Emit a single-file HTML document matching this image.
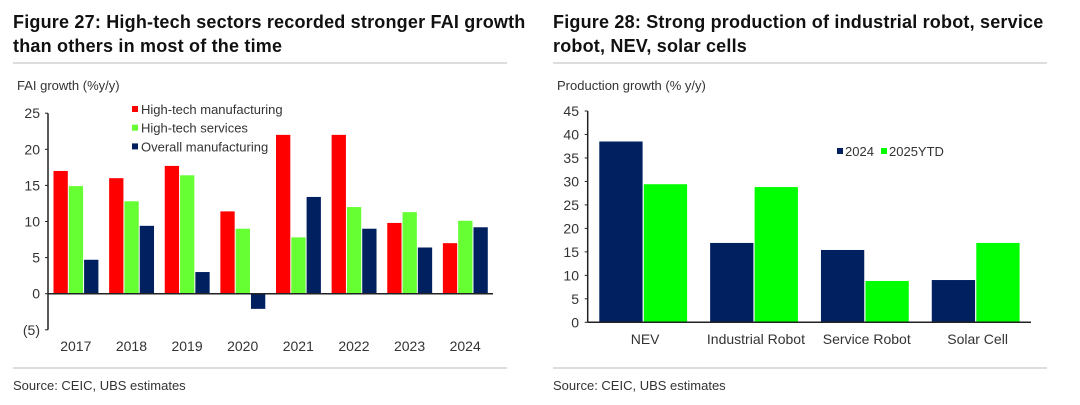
<!DOCTYPE html>
<html><head><meta charset="utf-8"><style>
body{margin:0;background:#fff;width:1080px;height:400px;overflow:hidden;font-family:"Liberation Sans",sans-serif}
svg text{font-family:"Liberation Sans",sans-serif}
</style></head><body>
<svg id="s" width="1080" height="400">
<text x="13" y="28" font-size="18" font-weight="bold" letter-spacing="0.2" fill="#111">Figure 27: High-tech sectors recorded stronger FAI growth</text>
<text x="13" y="52" font-size="18" font-weight="bold" letter-spacing="0.2" fill="#111">than others in most of the time</text>
<text x="553" y="28" font-size="18" font-weight="bold" letter-spacing="0.2" fill="#111">Figure 28: Strong production of industrial robot, service</text>
<text x="553" y="52" font-size="18" font-weight="bold" letter-spacing="0.2" fill="#111">robot, NEV, solar cells</text>
<rect x="13" y="62" width="494" height="2" fill="#ddd"/>
<rect x="553" y="62" width="494" height="2" fill="#ddd"/>
<rect x="13" y="367" width="494" height="2" fill="#ddd"/>
<rect x="553" y="367" width="494" height="2" fill="#ddd"/>
<text x="13" y="390" font-size="13" fill="#333">Source: CEIC, UBS estimates</text>
<text x="553" y="390" font-size="13" fill="#333">Source: CEIC, UBS estimates</text>
<text x="17" y="90" font-size="13" fill="#333">FAI growth (%y/y)</text>
<text x="557" y="90" font-size="13" fill="#333">Production growth (% y/y)</text>
<g id="L"></g><g id="R"></g>
</svg>
<script>
const years=["2017","2018","2019","2020","2021","2022","2023","2024"];
const hiTechMfg=[17,16,17.7,11.4,22,22,9.8,7];
const hiTechSvc=[14.9,12.8,16.4,9,7.8,12,11.3,10.1];
const overallMfg=[4.7,9.4,3,-2.1,13.4,9,6.4,9.2];
const leftTicks=[-5,0,5,10,15,20,25];
const leftTickLabels=["(5)","0","5","10","15","20","25"];
const cats=["NEV","Industrial Robot","Service Robot","Solar Cell"];
const s2024=[38.5,16.9,15.4,9];
const s2025=[29.4,28.8,8.8,16.9];
const rightTicks=[0,5,10,15,20,25,30,35,40,45];
const NS="http://www.w3.org/2000/svg";
function el(p,t,a){const e=document.createElementNS(NS,t);for(const k in a)e.setAttribute(k,a[k]);p.appendChild(e);return e;}
// Left chart
const L=document.getElementById('L');
const ly=v=>293.7-v*7.22;
const lx0=48,lx1=493,gw=(lx1-lx0)/years.length;
let ax=el(L,'line',{x1:lx0,y1:ly(25),x2:lx0,y2:ly(-5),stroke:'#222','stroke-width':1.5});


leftTicks.forEach((v,i)=>{
 const t=el(L,'line',{x1:lx0-3,x2:lx0,y1:ly(v),y2:ly(v),stroke:'#222'});
 
 
 const tx=el(L,'text',{x:40,y:ly(v)+5,'font-size':14,fill:'#333','text-anchor':'end'});
 tx.textContent=leftTickLabels[i];
 
 
});
const lser=[[hiTechMfg,'#ff0000','high-tech-mfg'],[hiTechSvc,'#66ff33','high-tech-svc'],[overallMfg,'#002060','overall-mfg']];
years.forEach((y,i)=>{
 const g0=lx0+i*gw+5.5;
 lser.forEach((s,j)=>{
  const v=s[0][i];
  const r=el(L,'rect',{x:g0+j*15.3,width:14.3,y:Math.min(ly(v),ly(0)),height:Math.abs(ly(v)-ly(0)),fill:s[1]});
  
  
 });
 const tx=el(L,'text',{x:lx0+i*gw+gw/2,y:351,'font-size':14,fill:'#333','text-anchor':'middle'});
 tx.textContent=y;
 
 
});
let z=el(L,'line',{x1:lx0,x2:lx1,y1:ly(0),y2:ly(0),stroke:'#222','stroke-width':1.5});


[["High-tech manufacturing",'#ff0000'],["High-tech services",'#66ff33'],["Overall manufacturing",'#002060']].forEach((e,i)=>{
 const yy=109+i*18.7;
 const r=el(L,'rect',{x:132,y:yy-3,width:6,height:6,fill:e[1]});
 
 
 const t=el(L,'text',{x:141,y:yy+5,'font-size':13,fill:'#333'});
 t.textContent=e[0];
 
 
});
// Right chart
const R=document.getElementById('R');
const ry=v=>322.3-v*4.696;
const rx0=587.7,rx1=1031,cw=(rx1-rx0)/cats.length;
ax=el(R,'line',{x1:rx0,y1:ry(45),x2:rx0,y2:ry(0),stroke:'#222','stroke-width':1.5});


rightTicks.forEach(v=>{
 const t=el(R,'line',{x1:rx0-3,x2:rx0,y1:ry(v),y2:ry(v),stroke:'#222'});
 
 
 const tx=el(R,'text',{x:579,y:ry(v)+5,'font-size':14,fill:'#333','text-anchor':'end'});
 tx.textContent=v;
 
 
});
cats.forEach((c,i)=>{
 const g0=rx0+i*cw+11.6;
 [[s2024,'#002060','2024'],[s2025,'#00ff00','2025ytd']].forEach((s,j)=>{
  const v=s[0][i];
  const r=el(R,'rect',{x:g0+j*44.5,width:43.3,y:ry(v),height:ry(0)-ry(v),fill:s[1]});
  
  
 });
 const tx=el(R,'text',{x:rx0+i*cw+cw/2+2,y:344,'font-size':14,fill:'#333','text-anchor':'middle'});
 tx.textContent=c;
 
 
});
z=el(R,'line',{x1:rx0,x2:rx1,y1:ry(0),y2:ry(0),stroke:'#222','stroke-width':1.5});


[["2024",'#002060',837],["2025YTD",'#00ff00',881]].forEach(e=>{
 const r=el(R,'rect',{x:e[2],y:148,width:6,height:6,fill:e[1]});
 
 
 const t=el(R,'text',{x:e[2]+8,y:156,'font-size':13,fill:'#333'});
 t.textContent=e[0];
 
 
});
</script>
</body></html>
